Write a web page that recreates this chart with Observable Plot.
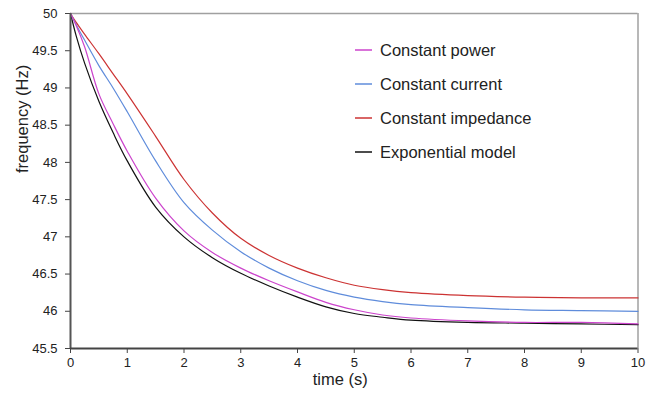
<!DOCTYPE html>
<html>
<head>
<meta charset="utf-8">
<script src="https://cdn.jsdelivr.net/npm/d3@7"></script>
<script src="https://cdn.jsdelivr.net/npm/@observablehq/plot@0.6"></script>
<style>
  html, body { margin: 0; padding: 0; background: #fff; }
  #wrap { position: relative; width: 657px; height: 394px; font-family: "Liberation Sans", Arial, sans-serif; }
  #legend { position: absolute; left: 355px; top: 33px; }
  .row { display: flex; align-items: center; height: 34px; font-size: 16.5px; color: #222; }
  .sw { display: block; width: 17px; height: 4px; margin-right: 8px; }
</style>
</head>
<body>
<div id="wrap"></div>
<script>
const time = [0, 0.1, 0.25, 0.5, 0.75, 1, 1.5, 2, 2.5, 3, 3.5, 4, 4.5, 5, 5.5, 6, 7, 8, 9, 10];
const constantPower     = [50, 49.84, 49.55, 48.92, 48.52, 48.15, 47.52, 47.08, 46.79, 46.58, 46.41, 46.26, 46.12, 46.02, 45.95, 45.91, 45.87, 45.85, 45.85, 45.83];
const constantCurrent   = [50, 49.85, 49.64, 49.30, 49.00, 48.68, 48.02, 47.46, 47.09, 46.80, 46.58, 46.41, 46.28, 46.19, 46.13, 46.09, 46.05, 46.02, 46.01, 46.00];
const constantImpedance = [50, 49.88, 49.72, 49.46, 49.19, 48.92, 48.35, 47.77, 47.32, 46.98, 46.75, 46.58, 46.45, 46.35, 46.29, 46.25, 46.21, 46.19, 46.18, 46.18];
const exponentialModel  = [50, 49.70, 49.33, 48.82, 48.40, 48.02, 47.40, 47.00, 46.72, 46.51, 46.34, 46.19, 46.06, 45.97, 45.92, 45.88, 45.85, 45.84, 45.83, 45.82];

const seriesNames = ["Constant power", "Constant current", "Constant impedance", "Exponential model"];
const seriesValues = [constantPower, constantCurrent, constantImpedance, exponentialModel];
const seriesColors = ["#cc44cc", "#5f8cdb", "#cc3333", "#111111"];

const xTicks = [0, 1, 2, 3, 4, 5, 6, 7, 8, 9, 10];
const yTicks = [45.5, 46, 46.5, 47, 47.5, 48, 48.5, 49, 49.5, 50];

const data = seriesNames.flatMap((name, i) => time.map((t, j) => ({series: name, t, f: seriesValues[i][j]})));
const drawOrder = ["Exponential model", "Constant impedance", "Constant current", "Constant power"];
const ordered = drawOrder.flatMap(n => data.filter(d => d.series === n));

const chart = Plot.plot({
  width: 657,
  height: 394,
  marginLeft: 70,
  marginRight: 19.5,
  marginTop: 13,
  marginBottom: 46,
  style: {fontFamily: "'Liberation Sans', Arial, sans-serif", color: "#222", background: "#fff"},
  x: {domain: [0, 10]},
  y: {domain: [45.5, 50]},
  color: {domain: seriesNames, range: seriesColors},
  marks: [
    Plot.ruleY([50], {stroke: "#a0a0a0", strokeWidth: 1.5}),
    Plot.ruleX([10], {stroke: "#a0a0a0", strokeWidth: 1.5}),
    Plot.lineY(ordered, {x: "t", y: "f", z: "series", stroke: "series", curve: "catmull-rom", strokeWidth: 1.2}),
    Plot.axisY({ticks: yTicks, tickSize: 5, tickPadding: 8, tickFormat: d => String(d), fontSize: 13, label: null, stroke: "#444"}),
    Plot.axisX({ticks: xTicks, tickSize: 5, tickPadding: 4, tickFormat: d => String(d), fontSize: 13, label: null, stroke: "#444"}),
    Plot.ruleX([0], {stroke: "#555", strokeWidth: 2}),
    Plot.ruleY([45.5], {stroke: "#444", strokeWidth: 2}),
    Plot.text(["time (s)"], {frameAnchor: "bottom", dy: 36, dx: -14, fontSize: 16.5, fill: "#222"}),
    Plot.text(["frequency (Hz)"], {frameAnchor: "left", dx: -48, dy: -8, rotate: -90, fontSize: 16.5, fill: "#222"})
  ]
});

const wrap = document.getElementById("wrap");
wrap.appendChild(chart);

const svgNS = "http://www.w3.org/2000/svg";
const legend = document.createElement("div");
legend.id = "legend";
seriesNames.forEach((name, i) => {
  const row = document.createElement("div");
  row.className = "row";
  const sw = document.createElementNS(svgNS, "svg");
  sw.setAttribute("class", "sw");
  sw.setAttribute("width", "17");
  sw.setAttribute("height", "4");
  const ln = document.createElementNS(svgNS, "line");
  ln.setAttribute("x1", "0"); ln.setAttribute("x2", "17");
  ln.setAttribute("y1", "2"); ln.setAttribute("y2", "2");
  ln.setAttribute("stroke", seriesColors[i]);
  ln.setAttribute("stroke-width", "1.5");
  sw.appendChild(ln);
  const label = document.createElement("span");
  label.textContent = name;
  row.appendChild(sw);
  row.appendChild(label);
  legend.appendChild(row);
});
wrap.appendChild(legend);
</script>
</body>
</html>
